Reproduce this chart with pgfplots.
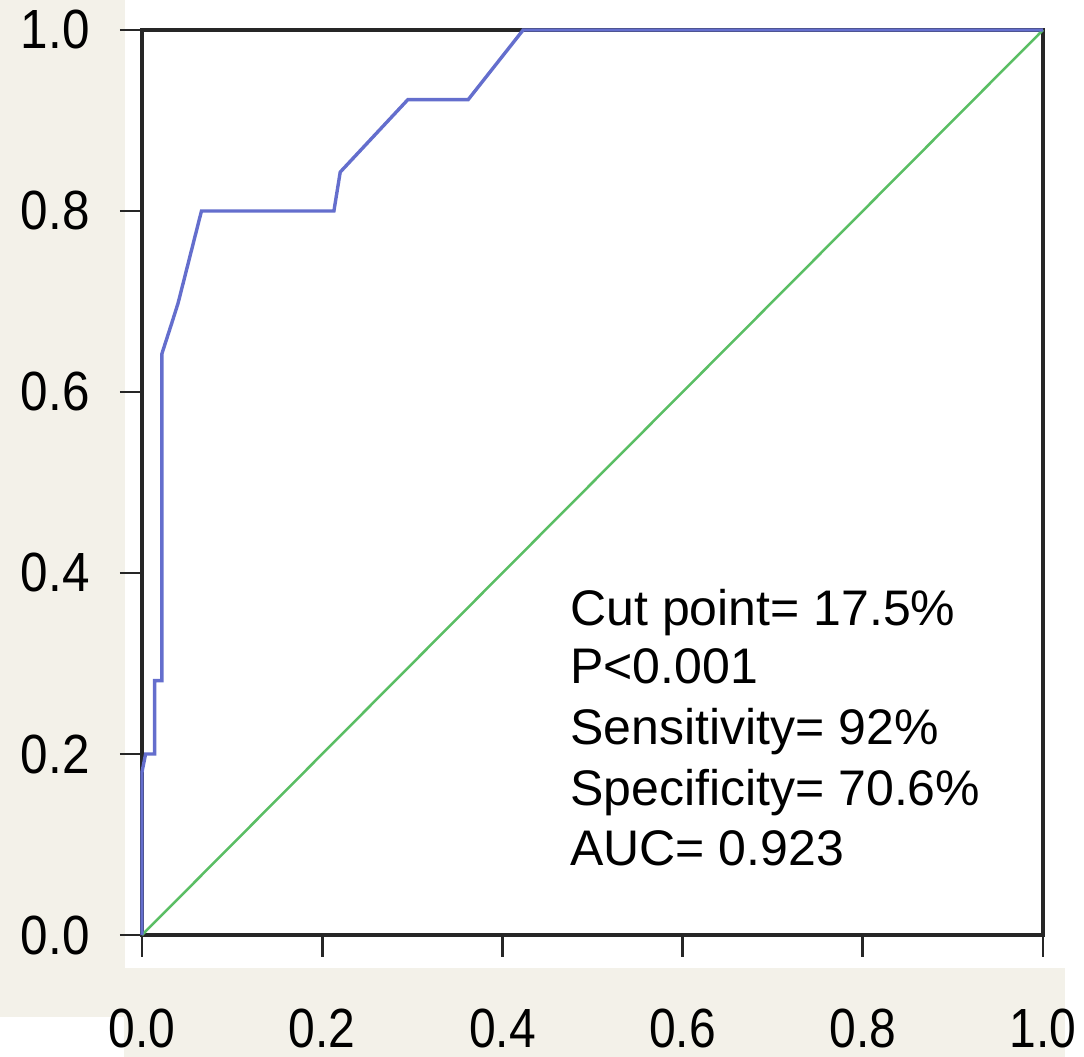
\documentclass[border=0pt]{standalone}
\usepackage{pgfplots}
\pgfplotsset{compat=1.18}
\usepackage{fontspec}
\setmainfont{Liberation Sans}
\usepackage{graphicx}
\definecolor{beige}{RGB}{243,241,233}
\definecolor{roc}{RGB}{100,110,205}
\definecolor{ref}{RGB}{90,190,100}
\begin{document}
\begin{tikzpicture}
\path[use as bounding box] (-71bp,-61bp) rectangle (471bp,467.5bp);
\fill[beige] (-71bp,-41bp) rectangle (-8.5bp,467.5bp);
\fill[beige] (-9bp,-16.5bp) rectangle (461.5bp,-61bp);
\begin{axis}[
  at={(0,0)}, anchor=south west,
  scale only axis, width=450.5bp, height=452.5bp,
  xmin=0, xmax=1, ymin=0, ymax=1,
  xtick={0,0.2,0.4,0.6,0.8,1.0},
  ytick={0,0.2,0.4,0.6,0.8,1.0},
  xtick pos=bottom, ytick pos=left,
  tick align=outside,
  major tick length=11bp,
  every tick/.style={black!85, line width=1.4bp},
  axis line style={black!85, line width=2bp},
  /pgf/number format/assume math mode=true,
  /pgf/number format/fixed, /pgf/number format/precision=1,
  /pgf/number format/fixed zerofill,
  xticklabel={\scalebox{1}[1.15]{\pgfmathprintnumber{\tick}}},
  yticklabel={\scalebox{1.03}[1.15]{\pgfmathprintnumber{\tick}}},
  xticklabel style={font=\fontsize{24bp}{24bp}\selectfont, anchor=north, inner sep=0pt, yshift=-26bp},
  yticklabel style={font=\fontsize{24bp}{24bp}\selectfont, anchor=east, inner sep=0pt, xshift=-15bp},
  clip=false,
]
\addplot[ref, line width=1.25bp] coordinates {(0,0) (1,1)};
\addplot[roc, line width=1.7bp] coordinates {
(0,0) (0,0.18) (0.004,0.2) (0.014,0.2) (0.014,0.281) (0.022,0.281)
(0.022,0.642) (0.033,0.676) (0.040,0.698) (0.066,0.80) (0.213,0.80)
(0.220,0.843) (0.295,0.923) (0.362,0.923) (0.423,1.0) (1,1)};
\begin{scope}[every node/.style={anchor=base west, inner sep=0pt, font=\fontsize{25bp}{30bp}\selectfont}]
\node at (axis cs:0.475,0.3425) {Cut point= 17.5\%};
\node at (axis cs:0.475,0.2784) {P<0.001};
\node at (axis cs:0.475,0.2110) {Sensitivity= 92\%};
\node at (axis cs:0.475,0.1436) {Specificity= 70.6\%};
\node at (axis cs:0.475,0.0773) {AUC= 0.923};
\end{scope}
\end{axis}
\end{tikzpicture}
\end{document}
